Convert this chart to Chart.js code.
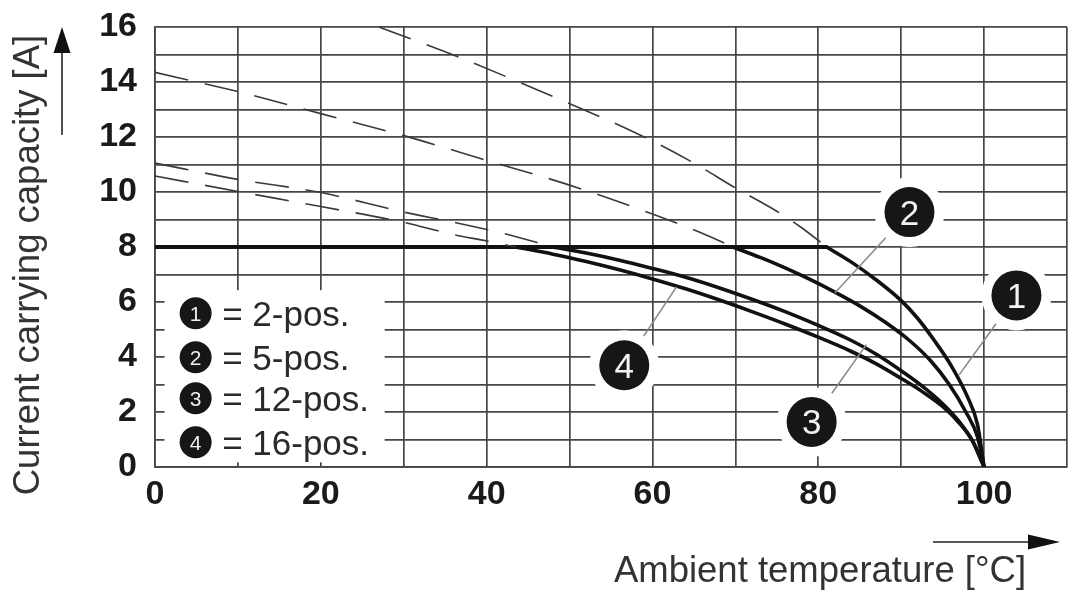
<!DOCTYPE html>
<html><head><meta charset="utf-8">
<script src="https://cdn.jsdelivr.net/npm/chart.js@4.4.1/dist/chart.umd.min.js"></script>
<style>html,body{margin:0;padding:0;background:#fff;}canvas{display:block;}</style>
</head><body>
<canvas id="c" width="1073" height="594"></canvas>
<script>
// ---- labels ----
const xTickLabels = [0, 20, 40, 60, 80, 100];
const yTickLabels = [0, 2, 4, 6, 8, 10, 12, 14, 16];
const xTitle = 'Ambient temperature [°C]';
const yTitle = 'Current carrying capacity [A]';
const legendNums = ['1', '2', '3', '4'];
const legendLabels = ['= 2-pos.', '= 5-pos.', '= 12-pos.', '= 16-pos.'];

// ---- 8 A limit ----
const limitX = [0, 81];
const limitY = [8, 8];

// ---- dashed extensions (above 8 A) ----
const ext1X = [27, 35, 47, 59, 65, 70, 75, 78, 81];
const ext1Y = [16, 15.1, 13.6, 12.0, 11.05, 10.15, 9.3, 8.7, 8.0];
const ext2X = [0, 10, 20, 30, 40, 50, 60, 66, 69.7];
const ext2Y = [14.35, 13.65, 12.85, 12.05, 11.15, 10.25, 9.2, 8.5, 8.0];
const ext3X = [0, 10, 20, 30, 36, 42, 48];
const ext3Y = [11.05, 10.46, 9.98, 9.27, 8.9, 8.5, 8.0];
const ext4X = [0, 10, 20, 30, 36, 40, 43.5];
const ext4Y = [10.58, 10.02, 9.47, 8.9, 8.45, 8.22, 8.0];

// ---- derating curves (solid) ----
const c1X = [81, 84, 87, 90, 92, 94, 96, 98, 99.2, 100];
const c1Y = [8.0, 7.45, 6.8, 6.05, 5.4, 4.6, 3.7, 2.55, 1.55, 0];
const c2X = [69.7, 73, 76, 79, 82, 85, 88, 91, 93.5, 95.8, 97.8, 99.2, 100];
const c2Y = [8.0, 7.62, 7.24, 6.82, 6.36, 5.86, 5.28, 4.6, 3.88, 3.0, 2.0, 1.1, 0];
const c3X = [48, 52, 56, 60, 64, 68, 72, 76, 80, 84, 87, 90, 92.5, 95, 97, 98.6, 100];
const c3Y = [8.0, 7.78, 7.52, 7.22, 6.9, 6.52, 6.1, 5.65, 5.15, 4.6, 4.1, 3.5, 2.95, 2.3, 1.65, 0.95, 0];
const c4X = [43.5, 48, 52, 56, 60, 64, 68, 72, 76, 80, 84, 87, 90, 92.5, 95, 97, 98.6, 100];
const c4Y = [8.0, 7.74, 7.47, 7.17, 6.84, 6.48, 6.08, 5.65, 5.2, 4.72, 4.2, 3.75, 3.22, 2.75, 2.2, 1.6, 0.95, 0];

// ---- callouts (data coordinates) ----
const calloutNums = ['1', '2', '3', '4'];
const calloutCenterX = [103.9, 91.0, 79.2, 56.6];
const calloutCenterY = [6.24, 9.27, 1.64, 3.7];
const calloutTargetX = [97.0, 82.0, 85.8, 62.9];
const calloutTargetY = [3.35, 6.33, 4.45, 6.55];

const pts = (xs, ys) => xs.map((x, i) => ({x, y: ys[i]}));
const FONT = '"Liberation Sans", Arial, Helvetica, sans-serif';

const dashed = (xs, ys) => ({
  data: pts(xs, ys), borderColor: '#3a3a3a', borderWidth: 1.6, borderDash: [34, 17],
  pointRadius: 0, fill: false, cubicInterpolationMode: 'monotone'
});
const solid = (xs, ys, w) => ({
  data: pts(xs, ys), borderColor: '#111', borderWidth: w, pointRadius: 0, fill: false,
  cubicInterpolationMode: 'monotone', borderCapStyle: 'round'
});

const overlay = {
  id: 'overlay',
  beforeDatasetsDraw(chart) {
    const {ctx, scales: {x, y}} = chart;
    ctx.save();
    ctx.fillStyle = '#fff';
    const bx0 = x.getPixelForValue(1.15), bx1 = x.getPixelForValue(27.7);
    const by0 = y.getPixelForValue(6.43), by1 = y.getPixelForValue(0.17);
    ctx.fillRect(bx0, by0, bx1 - bx0, by1 - by0);
    calloutNums.forEach((n, i) => {
      ctx.beginPath();
      ctx.arc(x.getPixelForValue(calloutCenterX[i]), y.getPixelForValue(calloutCenterY[i]), 35, 0, Math.PI * 2);
      ctx.fill();
    });
    ctx.restore();
  },
  afterDatasetsDraw(chart) {
    const {ctx, scales: {x, y}} = chart;
    ctx.save();
    calloutNums.forEach((n, i) => {
      const cx = x.getPixelForValue(calloutCenterX[i]), cy = y.getPixelForValue(calloutCenterY[i]);
      const tx = x.getPixelForValue(calloutTargetX[i]), ty = y.getPixelForValue(calloutTargetY[i]);
      const d = Math.hypot(tx - cx, ty - cy);
      const sx = cx + (tx - cx) * 35 / d, sy = cy + (ty - cy) * 35 / d;
      ctx.strokeStyle = '#8a8a8a';
      ctx.lineWidth = 1.6;
      ctx.beginPath(); ctx.moveTo(sx, sy); ctx.lineTo(tx, ty); ctx.stroke();
      ctx.fillStyle = '#161616';
      ctx.beginPath(); ctx.arc(cx, cy, 25, 0, Math.PI * 2); ctx.fill();
      ctx.fillStyle = '#f2f2f2';
      ctx.font = '35px ' + FONT;
      ctx.textAlign = 'center';
      ctx.textBaseline = 'alphabetic';
      ctx.fillText(n, cx, cy + 12.5);
    });
    const lcx = x.getPixelForValue(4.9);
    const ltx = x.getPixelForValue(8.1);
    const lys = [5.59, 3.99, 2.5, 0.9];
    legendNums.forEach((n, i) => {
      const cy = y.getPixelForValue(lys[i]);
      ctx.fillStyle = '#161616';
      ctx.beginPath(); ctx.arc(lcx, cy, 16, 0, Math.PI * 2); ctx.fill();
      ctx.fillStyle = '#eee';
      ctx.font = '21px ' + FONT;
      ctx.textAlign = 'center';
      ctx.fillText(n, lcx, cy + 7.5);
      ctx.fillStyle = '#2a2a2a';
      ctx.font = '35px ' + FONT;
      ctx.textAlign = 'left';
      ctx.fillText(legendLabels[i], ltx, cy + 12.5);
    });
    ctx.restore();
  },
  afterDraw(chart) {
    const {ctx} = chart;
    ctx.save();
    ctx.fillStyle = '#333';
    ctx.strokeStyle = '#222';
    ctx.font = '36.5px ' + FONT;
    ctx.textAlign = 'center';
    ctx.textBaseline = 'alphabetic';
    ctx.fillText(xTitle, 820, 582);
    ctx.save();
    ctx.translate(39, 265);
    ctx.rotate(-Math.PI / 2);
    ctx.fillText(yTitle, 0, 0);
    ctx.restore();
    ctx.lineWidth = 1.6;
    ctx.beginPath(); ctx.moveTo(62, 135); ctx.lineTo(62, 50); ctx.stroke();
    ctx.fillStyle = '#111';
    ctx.beginPath(); ctx.moveTo(62, 27); ctx.lineTo(53.5, 53); ctx.lineTo(70.5, 53); ctx.closePath(); ctx.fill();
    ctx.beginPath(); ctx.moveTo(933, 542); ctx.lineTo(1032, 542); ctx.stroke();
    ctx.beginPath(); ctx.moveTo(1060, 542); ctx.lineTo(1028, 534.5); ctx.lineTo(1028, 549.5); ctx.closePath(); ctx.fill();
    ctx.restore();
  }
};

new Chart(document.getElementById('c'), {
  type: 'line',
  data: {
    datasets: [
      dashed(ext1X, ext1Y), dashed(ext2X, ext2Y), dashed(ext3X, ext3Y), dashed(ext4X, ext4Y),
      solid(limitX, limitY, 3.8),
      solid(c1X, c1Y, 3.6), solid(c2X, c2Y, 3.6), solid(c3X, c3Y, 3.6), solid(c4X, c4Y, 3.6)
    ]
  },
  options: {
    responsive: false,
    animation: false,
    devicePixelRatio: 1,
    layout: {padding: {left: 0, top: 27, right: 6, bottom: 0}},
    plugins: {legend: {display: false}, tooltip: {enabled: false}},
    scales: {
      x: {
        type: 'linear', min: 0, max: 110,
        afterFit(s) { s.height = 127; s.paddingLeft = 0; s.paddingRight = 0; },
        grid: {color: '#474747', lineWidth: 1.7, drawTicks: false},
        border: {color: '#474747', width: 1.7},
        ticks: {
          stepSize: 10, autoSkip: false, maxRotation: 0, padding: 7, color: '#1a1a1a',
          font: {family: FONT, size: 34, weight: 'bold'},
          callback: v => xTickLabels.includes(v) ? String(v) : ''
        }
      },
      y: {
        type: 'linear', min: 0, max: 16,
        afterFit(s) { s.width = 155; s.paddingTop = 0; s.paddingBottom = 0; },
        grid: {color: '#474747', lineWidth: 1.7, drawTicks: false},
        border: {color: '#474747', width: 1.7},
        ticks: {
          stepSize: 1, autoSkip: false, padding: 18, color: '#1a1a1a',
          font: {family: FONT, size: 34, weight: 'bold'},
          callback: v => yTickLabels.includes(v) ? String(v) : ''
        }
      }
    }
  },
  plugins: [overlay]
});
</script>
</body></html>
